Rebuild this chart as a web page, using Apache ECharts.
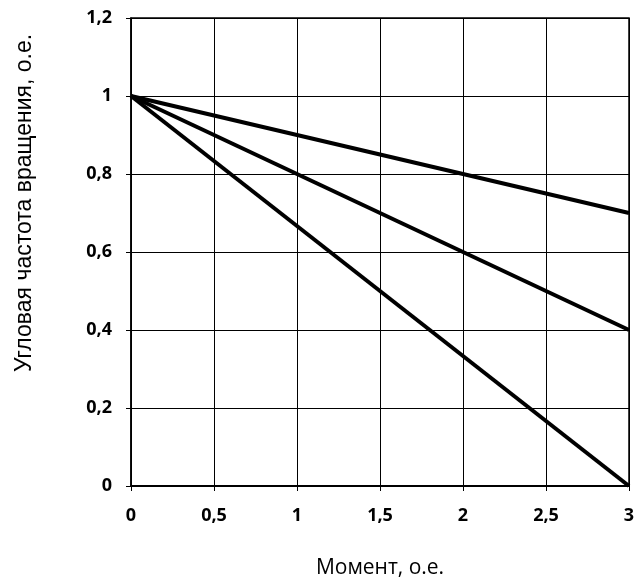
<!DOCTYPE html>
<html><head><meta charset="utf-8">
<script src="https://cdn.jsdelivr.net/npm/echarts@6/dist/echarts.min.js"></script>
<style>html,body{margin:0;padding:0;background:#fff}#c{width:636px;height:580px}</style>
</head><body><div id="c"></div>
<script>
var xValues = [0, 3];
var series1 = [1, 0.7];
var series2 = [1, 0.4];
var series3 = [1, 0];
var xTicks = ['0','0,5','1','1,5','2','2,5','3'];
var yTicks = ['0','0,2','0,4','0,6','0,8','1','1,2'];
var xTitle = 'Момент, о.е.';
var yTitle = 'Угловая частота вращения, о.е.';

function fmt(v){ return String(Math.round(v*10)/10).replace('.', ','); }
function mk(vals){ return xValues.map(function(x,i){return [x, vals[i]];}); }
var lineStyle = {color:'#000', width:4};
var chart = echarts.init(document.getElementById('c'));
chart.setOption({
  animation:false,
  grid:{left:131, top:18, width:498, height:468, show:true, borderColor:'#000', borderWidth:1.5,
    outerBoundsMode:'none', containLabel:false},
  graphic:[{type:'text', x:25, y:203, rotation:Math.PI/2,
    style:{text:yTitle, fontFamily:'Liberation Sans', fontSize:23, fill:'#000', align:'center', verticalAlign:'middle'}}],
  xAxis:{type:'value', min:0, max:3, interval:0.5,
    name:xTitle, nameLocation:'middle', nameGap:72,
    nameTextStyle:{fontFamily:'Open Sans', fontSize:21, color:'#000'},
    axisLine:{lineStyle:{color:'#000', width:2}},
    axisTick:{show:true, length:5, inside:false, lineStyle:{color:'#000'}},
    splitLine:{show:true, lineStyle:{color:'#000', width:1}},
    axisLabel:{fontFamily:'Open Sans', fontWeight:'bold', fontSize:18, color:'#000', margin:21,
      formatter:function(v){return fmt(v);}}
  },
  yAxis:{type:'value', min:0, max:1.2, interval:0.2,
    axisLine:{show:true, lineStyle:{color:'#000', width:1.5}},
    axisTick:{show:true, length:5, inside:false, lineStyle:{color:'#000'}},
    splitLine:{show:true, lineStyle:{color:'#000', width:1}},
    axisLabel:{fontFamily:'Open Sans', fontWeight:'bold', fontSize:18, color:'#000', margin:19,
      formatter:function(v){return fmt(v);}}
  },
  series:[
    {type:'line', data:mk(series1), symbol:'none', lineStyle:lineStyle},
    {type:'line', data:mk(series2), symbol:'none', lineStyle:lineStyle},
    {type:'line', data:mk(series3), symbol:'none', lineStyle:lineStyle}
  ]
});
</script></body></html>
